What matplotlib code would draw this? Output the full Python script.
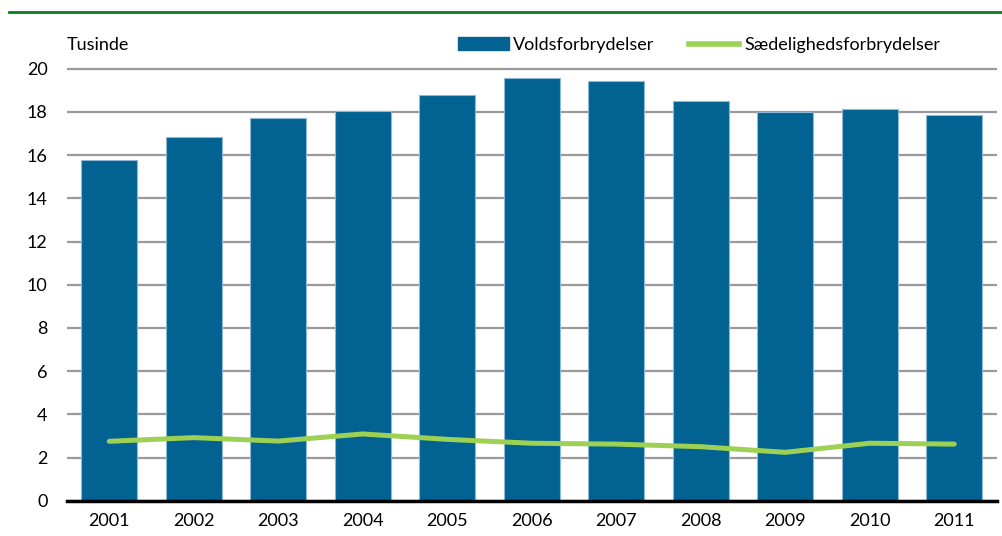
import numpy as np
import matplotlib
matplotlib.use("Agg")
import matplotlib.pyplot as plt
from matplotlib.lines import Line2D

plt.rcParams['font.family'] = ['Lato', 'DejaVu Sans']

years = ['2001', '2002', '2003', '2004', '2005', '2006',
         '2007', '2008', '2009', '2010', '2011']
vold = [15.79, 16.84, 17.70, 18.06, 18.78, 19.56, 19.43, 18.49, 17.98, 18.13, 17.84]
saed = [2.75, 2.92, 2.76, 3.09, 2.84, 2.66, 2.62, 2.50, 2.24, 2.66, 2.62]
yticks = [0, 2, 4, 6, 8, 10, 12, 14, 16, 18, 20]

bar_col = '#026392'
line_col = '#9dd153'

fig = plt.figure(figsize=(10.02, 5.36), dpi=100)
W, H = 1002, 536
ax = fig.add_axes([67 / W, (H - 500.7) / H, 929.5 / W, 436.3 / H])

x = np.arange(len(years))
ax.bar(x, vold, width=0.66, color=bar_col, edgecolor='#8fb8d4', linewidth=0.8, zorder=2)
ax.plot(x, saed, color=line_col, linewidth=3.6, solid_capstyle='round', zorder=3)

ax.set_xlim(-0.5, len(years) - 0.5)
ax.set_ylim(0, 20.2)
ax.set_yticks(yticks)
ax.set_xticks(x)
ax.set_xticklabels(years)
ax.tick_params(axis='both', length=0, labelsize=13)
ax.tick_params(axis='y', pad=14)
ax.tick_params(axis='x', pad=9)
ax.yaxis.grid(True, color='#9a9a9a', linewidth=1.6, zorder=0)
ax.set_axisbelow(True)
for s in ['top', 'right', 'left']:
    ax.spines[s].set_visible(False)
ax.spines['bottom'].set_linewidth(2.5)
ax.spines['bottom'].set_zorder(4)

fig.text(67 / W, 1 - 45 / H, 'Tusinde', fontsize=13, va='center', ha='left')

# green rule at the top
fig.add_artist(Line2D([9 / W, 1], [1 - 12 / H, 1 - 12 / H], color='#0a7d1e', linewidth=2))

handles = [plt.Rectangle((0, 0), 1, 1, color=bar_col),
           Line2D([0], [0], color=line_col, linewidth=4)]
fig.legend(handles, ['Voldsforbrydelser', 'Sædelighedsforbrydelser'],
           loc='center right', bbox_to_anchor=(940 / W, 1 - 45 / H), ncol=2,
           frameon=False, fontsize=13, handlelength=2.8, handleheight=0.7,
           handletextpad=0.25, columnspacing=1.9, borderaxespad=0, borderpad=0)

fig.savefig('out.png', dpi=100)
